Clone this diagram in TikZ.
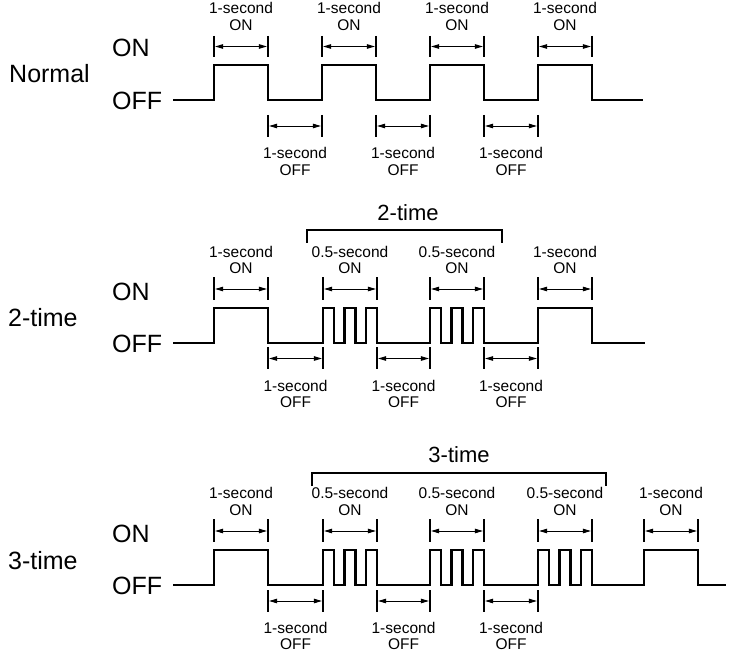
\documentclass[tikz,border=0pt]{standalone}
\usepackage{fontspec}
\setmainfont{Liberation Sans}
\usetikzlibrary{arrows.meta}

\tikzset{
   pulse/.style={line width=2.5pt, line join=miter},
   tickmark/.style={line width=2.2pt},
   dimarrow/.style={{Triangle[length=8pt,width=4.5pt]}-{Triangle[length=8pt,width=4.5pt]},
      line width=0.9pt, shorten <=1.1pt, shorten >=1.1pt},
   bracket/.style={line width=2pt},
   smalltext/.style={align=center, inner sep=0pt, font=\fontsize{15.5}{16.5}\selectfont},
   bigtext/.style={inner sep=0pt, anchor=west, font=\fontsize{25}{25}\selectfont},
   counttext/.style={inner sep=0pt, font=\fontsize{22}{22}\selectfont}
}

\begin{document}
\begin{tikzpicture}[x=1pt, y=-1pt]
   \useasboundingbox (0,0) rectangle (731,655);

   % Normal
   \node[bigtext] (onA) at (112,48) {ON};
   \node[bigtext] (modeA) at (9,74) {Normal};
   \node[bigtext] (offA) at (112,101) {OFF};
   \draw[pulse] (173,100) foreach \x in {214,322,430,538}
      {-- (\x,100) -- (\x,65) -- (\x+54,65) -- (\x+54,100)} -- (643,100);
   \foreach \x in {214,322,430,538} {
      \draw[tickmark] (\x,36) -- (\x,57) (\x+54,36) -- (\x+54,57);
      \draw[dimarrow] (\x,46.5) -- (\x+54,46.5);
      \node[smalltext] (onA\x) at (\x+27,16.5) {1-second\\ON};
   }
   \foreach \x in {268,376,484} {
      \draw[tickmark] (\x,115) -- (\x,137) (\x+54,115) -- (\x+54,137);
      \draw[dimarrow] (\x,126) -- (\x+54,126);
      \node[smalltext] (offA\x) at (\x+27,161.5) {1-second\\OFF};
   }

   % 2-time
   \node[bigtext] (onB) at (112,292) {ON};
   \node[bigtext] (modeB) at (8,318) {2-time};
   \node[bigtext] (offB) at (112,344) {OFF};
   \draw[pulse] (173,343) foreach \x/\w in {214/54,323/10.8,344.6/10.8,366.2/10.8,
      430/10.8,451.6/10.8,473.2/10.8,538/54}
      {-- (\x,343) -- (\x,308) -- (\x+\w,308) -- (\x+\w,343)} -- (645,343);
   \foreach \x/\t in {214/1,323/0.5,430/0.5,538/1} {
      \draw[tickmark] (\x,277) -- (\x,300) (\x+54,277) -- (\x+54,300);
      \draw[dimarrow] (\x,289) -- (\x+54,289);
      \node[smalltext] (onB\x) at (\x+27,260) {\t-second\\ON};
   }
   \foreach \x/\y in {268/323,377/430,484/538} {
      \draw[tickmark] (\x,347) -- (\x,369) (\y,347) -- (\y,369);
      \draw[dimarrow] (\x,358.5) -- (\y,358.5);
      \node[smalltext] (offB\x) at ({(\x+\y)/2},394) {1-second\\OFF};
   }
   \draw[bracket] (307,243) -- (307,230) -- (502,230) -- (502,243);
   \node[counttext] (countB) at (408,213) {2-time};

   % 3-time
   \node[bigtext] (onC) at (112,534) {ON};
   \node[bigtext] (modeC) at (8,561) {3-time};
   \node[bigtext] (offC) at (112,586) {OFF};
   \draw[pulse] (173,585) foreach \x/\w in {214/54,323/10.8,344.6/10.8,366.2/10.8,
      430/10.8,451.6/10.8,473.2/10.8,538/10.8,559.6/10.8,581.2/10.8,644/54}
      {-- (\x,585) -- (\x,550) -- (\x+\w,550) -- (\x+\w,585)} -- (726,585);
   \foreach \x/\t in {214/1,323/0.5,430/0.5,538/0.5,644/1} {
      \draw[tickmark] (\x,519) -- (\x,542) (\x+54,519) -- (\x+54,542);
      \draw[dimarrow] (\x,531) -- (\x+54,531);
      \node[smalltext] (onC\x) at (\x+27,501.5) {\t-second\\ON};
   }
   \foreach \x/\y in {268/323,377/430,484/538} {
      \draw[tickmark] (\x,590) -- (\x,612) (\y,590) -- (\y,612);
      \draw[dimarrow] (\x,601) -- (\y,601);
      \node[smalltext] (offC\x) at ({(\x+\y)/2},636) {1-second\\OFF};
   }
   \draw[bracket] (312,486) -- (312,473) -- (606,473) -- (606,486);
   \node[counttext] (countC) at (459,455) {3-time};
\end{tikzpicture}
\end{document}
